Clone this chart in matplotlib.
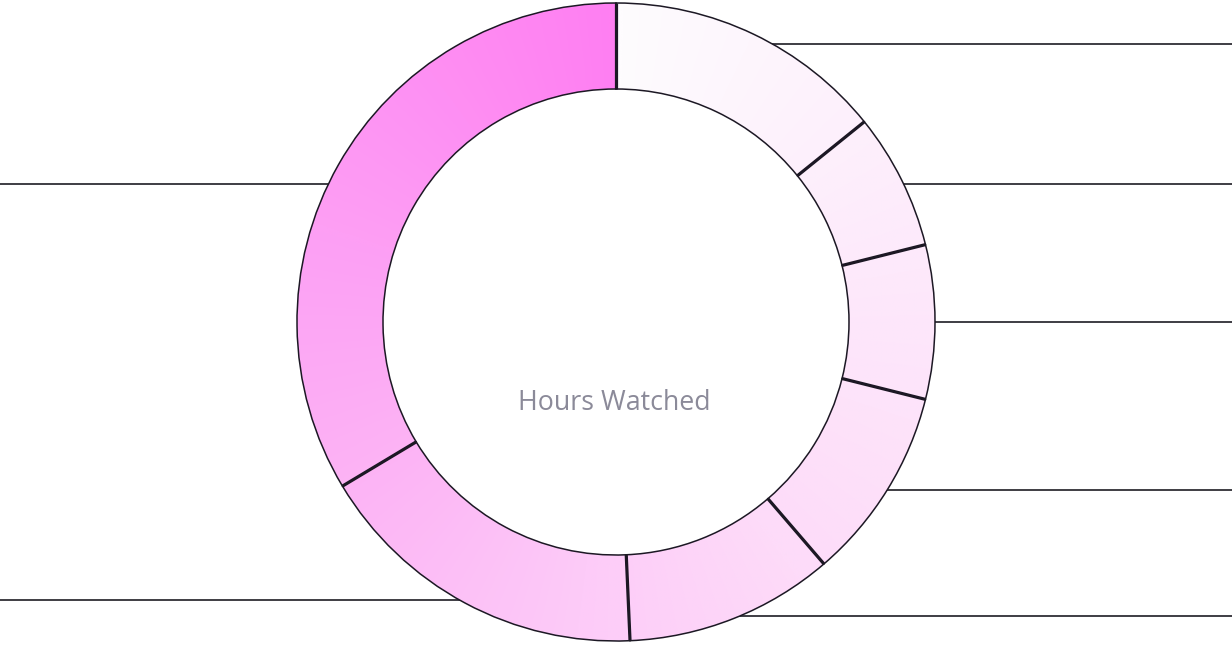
import numpy as np
import matplotlib
matplotlib.use("Agg")
import matplotlib.pyplot as plt
from matplotlib.colors import LinearSegmentedColormap

# ---- data (share of hours watched, clockwise from top) ----
values = [14.2, 6.9, 7.8, 9.8, 10.6, 17.1, 33.6]
# label leader-line rows (pixel y, from top) and side per segment
label_rows = [44, 184, 322, 490, 616, 600, 184]
label_sides = ["right", "right", "right", "right", "right", "left", "left"]
center_title = "Hours Watched"

# gradient stops (fraction clockwise from top -> colour)
grad_pos = [0.0, 0.14, 0.22, 0.30, 0.40, 0.52, 0.66, 0.80, 1.0]
grad_col = ["#fefcfe", "#fdf0fc", "#fde9fb", "#fde3fa", "#fddbf9",
            "#fdcbf8", "#fcb4f5", "#fd9ff4", "#ff7ff2"]

W, H = 1232, 672
fig = plt.figure(figsize=(W / 100, H / 100), dpi=100)
ax = fig.add_axes([0, 0, 1, 1])
ax.set_xlim(0, W)
ax.set_ylim(0, H)
ax.set_aspect("equal")
ax.axis("off")

cx, cy = 616, H - 322
R, ring_w = 319, 86
edge = "#1c1824"

wedges, _ = ax.pie(values, center=(cx, cy), radius=R, startangle=90,
                   counterclock=False, normalize=True,
                   wedgeprops=dict(width=ring_w, facecolor="none",
                                   edgecolor=edge, linewidth=1.1))
for w in wedges:
    w.set_zorder(3)

# conic gradient image clipped to each wedge
cmap = LinearSegmentedColormap.from_list("g", list(zip(grad_pos, grad_col)))
xs = np.linspace(cx - R - 2, cx + R + 2, 700)
ys = np.linspace(cy - R - 2, cy + R + 2, 700)
X, Y = np.meshgrid(xs, ys)
ang = np.degrees(np.arctan2(Y - cy, X - cx))
t = ((90 - ang) % 360) / 360.0
for w in wedges:
    im = ax.imshow(t, cmap=cmap, vmin=0, vmax=1, origin="lower",
                   extent=(xs[0], xs[-1], ys[0], ys[-1]), zorder=2,
                   interpolation="bilinear")
    im.set_clip_path(w)
ax.set_xlim(0, W)
ax.set_ylim(0, H)

# thicker radial separators between segments
fr = np.cumsum([0] + values) / sum(values)
for f in fr[:-1]:
    a = np.radians(90 - 360 * f)
    ax.plot([cx + (R - ring_w) * np.cos(a), cx + R * np.cos(a)],
            [cy + (R - ring_w) * np.sin(a), cy + R * np.sin(a)],
            color=edge, lw=2.3, zorder=4, solid_capstyle="butt")

# leader lines to (hidden) labels
for row, side in zip(label_rows, label_sides):
    y = H - row
    dx = np.sqrt(max(R ** 2 - (y - cy) ** 2, 0))
    if side == "right":
        ax.plot([cx + dx, W], [y, y], color="#1e1c24", lw=1.2, zorder=1)
    else:
        ax.plot([0, cx - dx], [y, y], color="#1e1c24", lw=1.2, zorder=1)

ax.text(614, H - 403, center_title, ha="center", va="center",
        fontsize=19.3, color="#8b8a99", family=["Open Sans", "DejaVu Sans"])

fig.savefig("out.png", dpi=100, facecolor="white")
